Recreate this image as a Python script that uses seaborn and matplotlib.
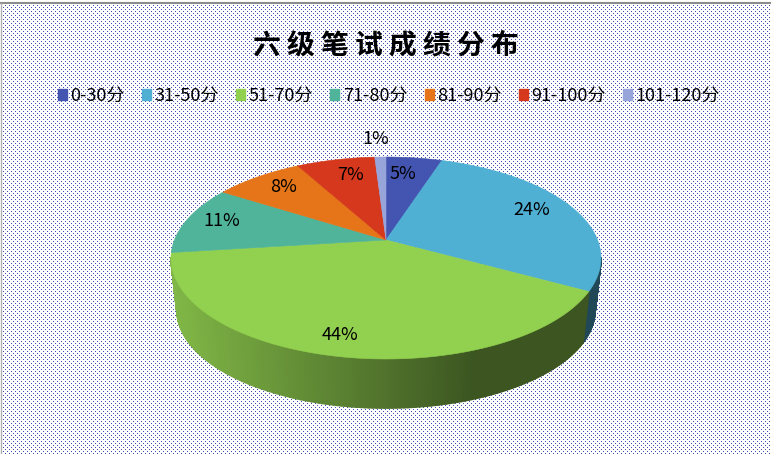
import numpy as np
import matplotlib
matplotlib.use('Agg')
import matplotlib.pyplot as plt
import matplotlib.patches as mpatches
import seaborn as sns

# ── Data ───────────────────────────────────────────────────────────────────────
categories = ['0-30分', '31-50分', '51-70分', '71-80分', '81-90分', '91-100分', '101-120分']
# slice sizes as drawn in the picture (the printed labels differ for 31-50 and 51-70)
drawn_shares = [5, 28, 40, 11, 8, 7, 1]
printed_labels = ['5%', '24%', '44%', '11%', '8%', '7%', '1%']
slice_colors = ['#4355B0', '#4FB0D4', '#92D050', '#50B49A', '#E57518', '#D5381C', '#98A5DA']
title_text = '六 级 笔 试 成 绩 分 布'

# ── Layout (pixels) ────────────────────────────────────────────────────────────
W, H = 771, 454
CX, TOP_CY, TOP_RX, TOP_RY = 386, 258, 215, 101
BOT_CY, BOT_RX, BOT_RY = 310, 209, 98
TILT = 18 / TOP_RY          # apex sits above the ellipse centre (perspective)
LABEL_XY = [(403, 174), (532, 210), (340, 335), (222, 221), (284, 187), (350, 175), (376, 139)]
FONTS = ['Liberation Sans Narrow', 'Noto Sans CJK SC', 'DejaVu Sans']

sns.set_theme(style='white')
plt.rcParams['font.family'] = FONTS
palette = sns.color_palette(slice_colors)


def warp(theta):
    # true pie angle (clockwise from top) to uv on the projected unit circle
    u, v = np.sin(theta), np.cos(theta)
    d = 1 + TILT * v
    return u * np.sqrt(1 - TILT ** 2) / d, (v + TILT) / d


def top_xy(u, v):
    return CX + TOP_RX * u, TOP_CY - TOP_RY * v


def bot_xy(u, v):
    return CX + BOT_RX * u, BOT_CY - BOT_RY * v


fig = plt.figure(figsize=(W / 100, H / 100), dpi=100)
ax = fig.add_axes([0, 0, 1, 1])

# dotted chart area
yy, xx = np.mgrid[0:H, 0:W]
dots = ((xx % 4 == 1) & (yy % 4 == 1)) | ((xx % 4 == 3) & (yy % 4 == 3))
bg = np.ones((H, W, 3))
bg[dots] = matplotlib.colors.to_rgb('#4050B0')
bg[:3, :] = 1
ax.imshow(bg, extent=(0, W, H, 0), interpolation='nearest', aspect='auto', zorder=0)
ax.plot([0, W], [2.5, 2.5], color='#8C8C8C', lw=1.5, zorder=1)
ax.plot([0.5, 0.5], [2.5, H], color='#B0B0B0', lw=1, zorder=1)

edges = np.cumsum([0] + drawn_shares) / sum(drawn_shares) * 2 * np.pi

# side wall, front half only, shaded left to right
for i, base in enumerate(palette):
    th = np.linspace(edges[i], edges[i + 1], 160)
    u, v = warp(th)
    for k in range(len(th) - 1):
        if v[k] > 0 and v[k + 1] > 0:
            continue
        x0, y0 = top_xy(u[k:k + 2], v[k:k + 2])
        x1, y1 = bot_xy(u[k:k + 2], v[k:k + 2])
        shade = np.clip((x0.mean() - 171) / (475 - 171), 0, 1)
        factor = 0.88 - 0.47 * shade
        col = tuple(c * factor for c in base)
        ax.fill([x0[0], x0[1], x1[1], x1[0]], [y0[0], y0[1], y1[1], y1[0]],
                color=col, lw=1.2, zorder=2)

# top face
apex = (CX, TOP_CY - TOP_RY * TILT)
for i, base in enumerate(palette):
    th = np.linspace(edges[i], edges[i + 1], 120)
    x, y = top_xy(*warp(th))
    ax.fill(np.r_[apex[0], x], np.r_[apex[1], y], color=base, lw=0.4, zorder=3)

for lab, (lx, ly) in zip(printed_labels, LABEL_XY):
    ax.text(lx, ly, lab, ha='center', va='center', fontsize=13, color='black', zorder=4)

ax.text(386, 45, title_text, ha='center', va='center', fontsize=20, fontweight='bold',
        color='black', family=['Noto Sans CJK SC', 'DejaVu Sans'], zorder=4)

handles = [mpatches.Patch(color=c, label=n) for c, n in zip(palette, categories)]
ax.legend(handles=handles, loc='center', bbox_to_anchor=(389, 96), bbox_transform=ax.transData,
          ncol=7, frameon=False, fontsize=13, labelcolor='black', handlelength=0.5, handleheight=0.55,
          handletextpad=0.2, columnspacing=0.95, borderpad=0, labelspacing=0)

ax.set_xlim(0, W)
ax.set_ylim(H, 0)
ax.axis('off')
fig.savefig('out.png', dpi=100)
